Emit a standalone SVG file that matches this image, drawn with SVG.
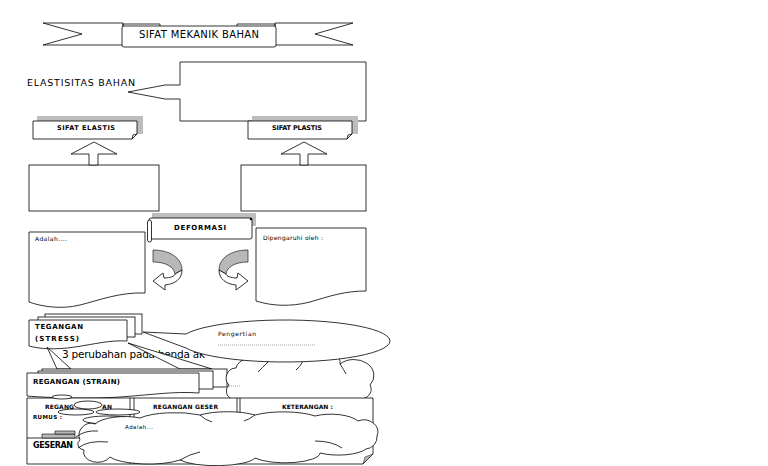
<svg xmlns="http://www.w3.org/2000/svg" width="768" height="466" viewBox="0 0 768 466">
<style>
.s{fill:#fff;stroke:#000;stroke-width:0.8}
.sg{fill:#b8b8b8;stroke:#000;stroke-width:0.6}
.g{fill:#bdbdbd;stroke:none}
.ln{fill:none;stroke:#000;stroke-width:0.8}
.dot{fill:none;stroke:#444;stroke-width:0.6;stroke-dasharray:0.8 1.2}
.t{font-family:"DejaVu Sans","Liberation Sans",sans-serif;fill:#000}
.b{font-weight:bold}
</style>
<defs>
<g id="carrow">
<path class="sg" d="M153,250 C170,250 182,258 182,270 L175,274 C174,267 166,262 153,262 Z"/>
<path class="s" d="M182,270 C182,279 175,284 165,285 L165,290 L153,281 L163,273 L164,278 C170,278 175,276 175,274 Z"/>
</g>
</defs>
<rect width="768" height="466" fill="#fff"/>

<g id="title">
<polygon class="s" points="43,23 123,23 123,45 43,45 82,34"/>
<polygon class="s" points="353,23 275,23 275,45 353,45 315,34"/>
<polyline class="ln" points="123,26 123,24 160,24 160,26"/>
<polyline class="ln" points="237,26 237,24 275,24 275,26"/>
<rect class="s" x="122" y="26" width="154" height="21" rx="2"/>
<text class="t" x="199" y="38" font-size="10" text-anchor="middle" textLength="120">SIFAT MEKANIK BAHAN</text>
</g>

<g id="elastisitas">
<text class="t" x="27" y="85.5" font-size="9.5" textLength="108">ELASTISITAS BAHAN</text>
<path class="s" d="M180,62 H366 V121 H180 V99 H165 L128,92 L165,85 H180 Z"/>
</g>

<g id="sifat-elastis">
<rect class="g" x="37" y="116" width="106" height="18"/>
<path class="s" d="M33,121 H137 V134 L132,139 H33 Z"/>
<path class="ln" d="M137,134 L133,135 L132,139"/>
<text class="t b" x="86" y="130" font-size="6.5" text-anchor="middle" textLength="58">SIFAT ELASTIS</text>
</g>

<g id="sifat-plastis">
<rect class="g" x="252" y="116" width="106" height="18"/>
<path class="s" d="M248,121 H352 V134 L347,139 H248 Z"/>
<path class="ln" d="M352,134 L348,135 L347,139"/>
<text class="t b" x="297" y="130" font-size="6.5" text-anchor="middle" textLength="50">SIFAT PLASTIS</text>
</g>

<g id="box-elastis"><rect class="s" x="29" y="165" width="130" height="46"/></g>
<g id="box-plastis"><rect class="s" x="241" y="165" width="125" height="46"/></g>

<g id="deformasi">
<rect class="g" x="152" y="213" width="104" height="13"/>
<rect class="s" x="149" y="218" width="103" height="21" rx="2"/>
<rect class="s" x="147.5" y="220" width="4" height="22" rx="2"/>
<circle cx="251" cy="219" r="1.3" fill="#000"/>
<text class="t b" x="200" y="229.5" font-size="7" text-anchor="middle" textLength="52">DEFORMASI</text>
</g>

<g id="adalah">
<path class="s" d="M29,232 H145 V293 C120,292 100,300 80,305 C60,310 40,306 29,302 Z"/>
<text class="t" x="35" y="241" font-size="6" textLength="32">Adalah....</text>
</g>

<g id="dipengaruhi">
<path class="s" d="M256,228 H366 V291 C345,291 330,296 310,302 C290,307 272,306 256,301 Z"/>
<text class="t" x="263" y="240" font-size="6" textLength="60">Dipengaruhi oleh :</text>
</g>

<g id="connectors">
<polygon class="s" points="89,165 89,154 71,154 94,142 117,154 98,154 98,165"/>
<polygon class="s" points="300,165 300,154 281,154 304,142 327,154 308,154 308,165"/>
<use href="#carrow"/>
<use href="#carrow" transform="matrix(-1 0 0 1 401 0)"/>
</g>

<g id="perubahan">
<text class="t" x="62" y="358" font-size="10.5" fill="#222" textLength="143">3 perubahan pada benda ak</text>
</g>

<g id="tegangan">
<rect class="s" x="45" y="314" width="97" height="20"/>
<rect class="s" x="38" y="317" width="97" height="20"/>
<path class="s" d="M29,320 H127 V341 C110,340 95,344 75,347 C55,350 40,349 29,346 Z"/>
<text class="t b" x="35" y="329" font-size="7" textLength="48">TEGANGAN</text>
<text class="t b" x="35" y="341" font-size="7" textLength="44">(STRESS)</text>
</g>

<g id="pointers">
<polygon class="s" points="47,347 57,369 71,369"/>
<polygon class="s" points="128,343 180,369 212,369"/>
</g>

<g id="regangan">
<rect class="s" x="42" y="369" width="185" height="18"/>
<rect class="s" x="38" y="371" width="175" height="18"/>
<path class="s" d="M27,373 H199 V393 C175,391 150,395 120,397 C90,399 50,398 27,396 Z"/>
<text class="t b" x="33" y="384" font-size="7" textLength="87">REGANGAN (STRAIN)</text>
</g>

<g id="cloud-upper">
<path class="s" d="M229,385 A10,10 0 0 1 236,368 A18,12 0 0 1 268,362 A18,12 0 0 1 303,361 A18,12 0 0 1 340,364 A20,16 0 0 1 370,385 A12,10 0 0 1 362,399 L234,399 A8,8 0 0 1 229,385 Z"/>
<path class="ln" d="M268,362 Q262,368 258,372 M303,361 Q300,367 296,370 M340,364 Q344,370 346,374"/>
<line class="dot" x1="229" y1="386" x2="241" y2="386"/>
</g>

<g id="pengertian">
<path class="s" d="M143,332 L186,334 A105,21 0 1 1 186,348 Z"/>
<text class="t" x="218" y="335.5" font-size="6" textLength="38">Pengertian</text>
<line class="dot" x1="218" y1="345" x2="316" y2="345"/>
</g>

<g id="table">
<path class="s" d="M27,398 H373 V454 L363,464 H27 Z"/>
<polygon points="363,464 373,454 365,457" fill="#bbb" stroke="#000" stroke-width="0.5"/>
<path class="ln" d="M130,398 V464 M134,398 V464 M237,398 V464 M240,398 V464"/>
<text class="t b" x="45" y="409" font-size="6" textLength="29">REGANG</text>
<text class="t b" x="102" y="409" font-size="6" textLength="10">AN</text>
<text class="t b" x="153" y="409" font-size="6" textLength="65">REGANGAN GESER</text>
<text class="t b" x="282" y="409" font-size="6" textLength="51">KETERANGAN :</text>
</g>

<g id="geseran">
<path class="ln" d="M27,438 H95"/>
<polygon class="sg" points="42,438 42,434 75,434 75,438"/>
<polygon class="sg" points="55,434 55,431 75,431 75,434"/>
<text class="t b" x="33" y="447.5" font-size="8" textLength="40">GESERAN</text>
</g>

<g id="cloud-lower">
<ellipse class="s" cx="62" cy="397" rx="10" ry="2"/>
<ellipse class="s" cx="88" cy="405" rx="14" ry="4"/>
<ellipse class="s" cx="118" cy="412" rx="22" ry="3"/>
<ellipse class="s" cx="76" cy="412" rx="18" ry="3"/>
<ellipse class="s" cx="108" cy="420" rx="25" ry="4"/>
<path class="ln" d="M99,423 L101,431 M104,424 L107,430"/>
<path class="s" d="M80,440 A12,12 0 0 1 95,424 A32,12 0 0 1 140,418 A42,12 0 0 1 200,415 A40,12 0 0 1 255,415 A42,12 0 0 1 315,416 A30,12 0 0 1 358,421 A14,12 0 0 1 377,436 A12,12 0 0 1 366,449 A30,10 0 0 1 320,453 A35,10 0 0 1 255,458 A40,10 0 0 1 180,460 A40,10 0 0 1 110,457 A14,10 0 0 1 84,450 A8,6 0 0 1 80,440 Z"/>
<path class="ln" d="M76,437 Q85,430 98,431 M78,448 Q88,440 108,442 M315,441 Q332,441 342,448 M200,415 Q205,420 212,422 M255,415 Q250,419 244,421 M180,460 Q190,454 200,452"/>
<text class="t b" x="33" y="418.5" font-size="5.5" textLength="29">RUMUS :</text>
<text class="t" x="125" y="429" font-size="5.5" textLength="28">Adalah...</text>
</g>
</svg>
